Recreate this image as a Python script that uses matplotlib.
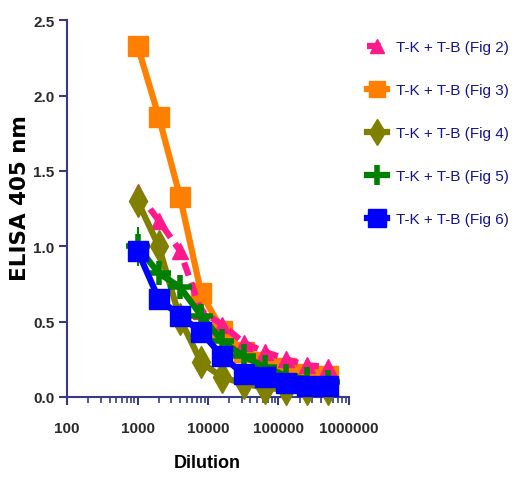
import numpy as np
import matplotlib
matplotlib.use('Agg')
import matplotlib.pyplot as plt
from matplotlib.ticker import LogLocator, NullFormatter, FixedLocator

plt.rcParams['font.family'] = ['Liberation Sans', 'DejaVu Sans']

# dilutions (x) and ELISA readings per figure
dilution = [1000, 2000, 4000, 8000, 16000, 32000, 64000, 128000, 256000, 512000]
fig2 = [1.36, 1.17, 0.97, 0.57, 0.48, 0.36, 0.30, 0.25, 0.21, 0.20]
fig3 = [2.33, 1.86, 1.33, 0.69, 0.44, 0.30, 0.23, 0.19, 0.15, 0.14]
fig4 = [1.30, 1.00, 0.52, 0.23, 0.13, 0.09, 0.06, 0.05, 0.05, 0.05]
fig5 = [1.00, 0.82, 0.73, 0.54, 0.37, 0.27, 0.20, 0.14, 0.12, 0.10]
fig5_err = [0.13, 0.08, 0.08, 0.06, 0.05, 0.04, 0.04, 0.03, 0.02, 0.02]
fig6 = [0.97, 0.65, 0.54, 0.43, 0.27, 0.15, 0.13, 0.09, 0.07, 0.07]
labels = ['T-K + T-B (Fig 2)', 'T-K + T-B (Fig 3)', 'T-K + T-B (Fig 4)',
          'T-K + T-B (Fig 5)', 'T-K + T-B (Fig 6)']

navy = '#353b87'

fig = plt.figure(figsize=(5.2, 4.81), dpi=100)
ax = fig.add_axes([0.129, 0.1726, 0.542, 0.7834])

h3, = ax.plot(dilution, fig3, color='#ff8000', lw=4.5, marker='s', ms=14, zorder=2)
h2, = ax.plot(dilution, fig2, color='#ff1a8c', lw=4.5, ls=(0, (2.2, 1.2)), marker='^', ms=12, zorder=3)
h4, = ax.plot(dilution, fig4, color='#808000', lw=4.5, marker='d', ms=16, zorder=4)
eb = ax.errorbar(dilution, fig5, yerr=fig5_err, color='#008000', lw=4.5, marker='+', ms=17,
                 mew=4, elinewidth=1.5, capsize=0, zorder=5)
h6, = ax.plot(dilution, fig6, color='#0000ff', lw=4.5, marker='s', ms=15, zorder=6)

ax.set_xscale('log')
ax.set_xlim(100, 1e6)
ax.set_ylim(0, 2.5)
ax.set_yticks([0.0, 0.5, 1.0, 1.5, 2.0, 2.5])
ax.set_yticklabels(['0.0', '0.5', '1.0', '1.5', '2.0', '2.5'])
ax.xaxis.set_major_locator(FixedLocator([100, 1000, 10000, 100000, 1000000]))
ax.set_xticklabels(['100', '1000', '10000', '100000', '1000000'])
ax.xaxis.set_minor_locator(LogLocator(base=10, subs=np.arange(2, 10)))
ax.xaxis.set_minor_formatter(NullFormatter())

for s in ['top', 'right']:
    ax.spines[s].set_visible(False)
for s in ['left', 'bottom']:
    ax.spines[s].set_color(navy)
    ax.spines[s].set_linewidth(1.5)

ax.tick_params(axis='both', which='major', color=navy, width=1.5, length=6,
               labelsize=11, labelcolor='#2a2a2a')
ax.tick_params(axis='y', which='major', pad=3)
ax.tick_params(axis='x', which='major', pad=11)
ax.tick_params(axis='x', which='minor', color=navy, width=1.2, length=4)
for t in ax.get_xticklabels() + ax.get_yticklabels():
    t.set_fontweight('bold')
for line in ax.get_lines():
    line.set_clip_on(False)

ax.set_xlabel('Dilution', fontsize=13, fontweight='bold')
ax.xaxis.set_label_coords(0.496, -0.152)
ax.set_ylabel('ELISA 405 nm', fontsize=15.5, fontweight='bold', family=['DejaVu Sans'])
ax.yaxis.set_label_coords(-0.133, 0.53)

leg = fig.legend([h2, h3, h4, eb, h6], labels, loc='upper left', bbox_to_anchor=(0.68, 0.943),
                 frameon=False, fontsize=11, handlelength=1.3, labelspacing=1.9,
                 handletextpad=0.6, markerscale=0.85)
for t in leg.get_texts():
    t.set_color('#14148c')

fig.savefig('out.png', dpi=100)
